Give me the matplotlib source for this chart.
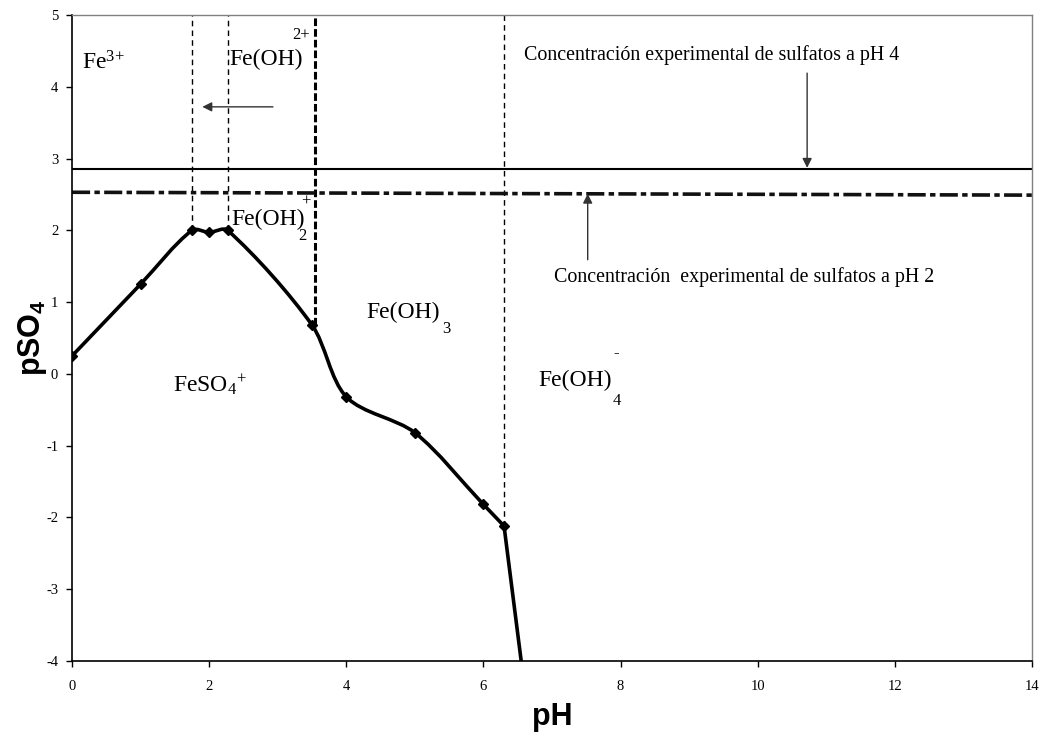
import numpy as np
import matplotlib
matplotlib.use("Agg")
import matplotlib.pyplot as plt
from matplotlib.path import Path
from matplotlib.patches import PathPatch

plt.rcParams['font.family'] = ['Liberation Serif', 'DejaVu Serif']
plt.rcParams['mathtext.fontset'] = 'custom'
plt.rcParams['mathtext.rm'] = 'Liberation Serif'
plt.rcParams['mathtext.it'] = 'Liberation Serif:italic'
plt.rcParams['mathtext.bf'] = 'Liberation Sans:bold'
plt.rcParams['axes.unicode_minus'] = False

# boundary FeSO4+ / hydroxo species (pH, pSO4)
ph_pts = [0.0, 1.0, 1.75, 2.0, 2.27, 3.5, 4.0, 5.0, 6.0, 6.3]
pso4_pts = [0.25, 1.25, 2.0, 1.97, 2.0, 0.68, -0.32, -0.82, -1.82, -2.12]
# last straight leg down to the bottom of the plot
tail_ph = [6.3, 6.55]
tail_pso4 = [-2.12, -4.0]

# vertical species limits: pH position, lower end
vlim_ph = [1.75, 2.27, 3.55, 6.3]
vlim_low = [2.0, 2.0, 0.68, -2.12]
vlim_lw = [1.0, 1.0, 2.2, 1.0]

# experimental sulfate levels
exp_ph4 = 2.85
exp_ph2_x = [0.0, 14.0]
exp_ph2_y = [2.53, 2.49]


def smooth_path(x, y, k=0.3):
    # Bezier path through the points; tangent from neighbours,
    # handle length tied to the segment so short segments don't overshoot
    p = np.column_stack([x, y]).astype(float)
    n = len(p)
    tang = []
    for i in range(n):
        a = p[max(i - 1, 0)]
        b = p[min(i + 1, n - 1)]
        d = b - a
        tang.append(d / np.hypot(*d))
    verts = [p[0]]
    codes = [Path.MOVETO]
    for i in range(n - 1):
        seg = np.hypot(*(p[i + 1] - p[i]))
        c1 = p[i] + tang[i] * seg * k
        c2 = p[i + 1] - tang[i + 1] * seg * k
        verts += [c1, c2, p[i + 1]]
        codes += [Path.CURVE4] * 3
    return Path(verts, codes)


fig = plt.figure(figsize=(10.41, 7.34), dpi=100)
ax = fig.add_axes([0.0692, 0.0995, 0.9222, 0.8801])

ax.add_patch(PathPatch(smooth_path(ph_pts, pso4_pts), fill=False,
                       lw=2.6, color='black', capstyle='round', joinstyle='round'))
ax.plot(tail_ph, tail_pso4, color='black', lw=2.6)
ax.plot(ph_pts, pso4_pts, ls='none', marker='D', ms=5, color='black')

for xv, lo, lw in zip(vlim_ph, vlim_low, vlim_lw):
    dash = (2.5, 1.0) if lw > 2 else (4, 3)
    ax.plot([xv, xv], [lo, 5], color='black', lw=lw, dashes=dash)

ax.axhline(exp_ph4, color='black', lw=1.5)
ax.plot(exp_ph2_x, exp_ph2_y, color='#111111', lw=2.6, dashes=(5, 1.2, 1.5, 1.2))

arrow = dict(arrowstyle='-|>', color='#333333', lw=1.0, mutation_scale=14,
             shrinkA=0, shrinkB=0)
ax.annotate('', xy=(1.9, 3.72), xytext=(2.93, 3.72), arrowprops=arrow)
ax.annotate('', xy=(10.72, 2.87), xytext=(10.72, 4.19), arrowprops=arrow)
ax.annotate('', xy=(7.52, 2.51), xytext=(7.52, 1.59), arrowprops=arrow)

ax.text(9.33, 4.44, 'Concentración experimental de sulfatos a pH 4',
        ha='center', va='center', fontsize=14.4)
ax.text(9.80, 1.35, 'Concentración  experimental de sulfatos a pH 2',
        ha='center', va='center', fontsize=14.4)

# species labels
big = 17
small = 12
ax.text(0.14, 4.24, 'Fe$^{3{+}}$', fontsize=big, va='baseline')
ax.text(2.30, 4.30, 'Fe(OH)', fontsize=big, va='baseline')
ax.text(3.21, 4.67, '2+', fontsize=small, va='baseline')
ax.text(2.33, 2.08, 'Fe(OH)', fontsize=big, va='baseline')
ax.text(3.34, 2.35, '+', fontsize=small, va='baseline')
ax.text(3.30, 1.87, '2', fontsize=small, va='baseline')
ax.text(4.29, 0.78, 'Fe(OH)', fontsize=big, va='baseline')
ax.text(5.40, 0.57, '3', fontsize=small, va='baseline')
ax.text(6.80, -0.17, 'Fe(OH)', fontsize=big, va='baseline')
ax.text(7.89, 0.24, '-', fontsize=small, va='baseline')
ax.text(7.88, -0.43, '4', fontsize=small, va='baseline')
ax.text(1.47, -0.25, 'FeSO$_4$$^{{+}}$', fontsize=big, va='baseline')

ax.set_xlim(0, 14)
ax.set_ylim(-4, 5)
ax.set_xticks(np.arange(0, 15, 2))
ax.set_yticks(np.arange(-4, 6, 1))
ax.tick_params(direction='out', length=4, width=1, labelsize=10.5, colors='black')
ax.tick_params(axis='x', pad=10)
ax.tick_params(axis='y', pad=6)
for side in ('top', 'right'):
    ax.spines[side].set_color('#808080')
    ax.spines[side].set_linewidth(1)
for side in ('left', 'bottom'):
    ax.spines[side].set_color('black')
    ax.spines[side].set_linewidth(1.2)

ax.set_xlabel('pH', fontsize=22, fontweight='bold', family='Liberation Sans', labelpad=6)
ax.set_ylabel(r'$\mathbf{pSO_4}$', fontsize=22, labelpad=-2)

fig.savefig('out.png', dpi=100)
